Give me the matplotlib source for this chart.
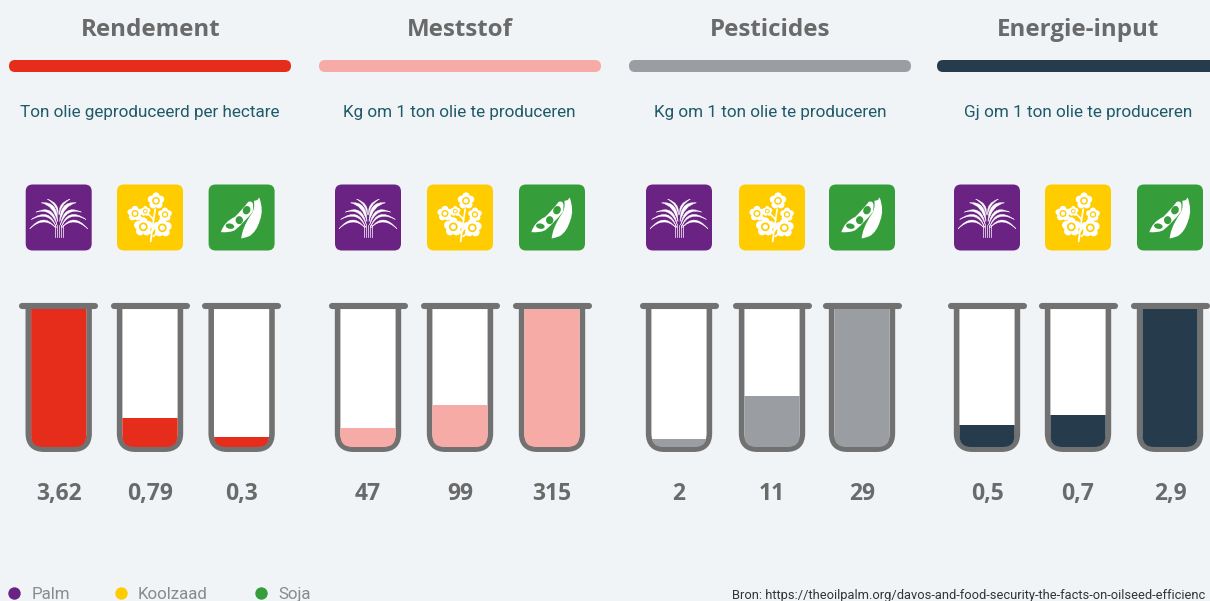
import numpy as np
import matplotlib
matplotlib.use("Agg")
import matplotlib.pyplot as plt
from matplotlib.path import Path
from matplotlib.patches import PathPatch, FancyBboxPatch, Circle, Ellipse
from matplotlib.transforms import Affine2D

titles = ["Rendement", "Meststof", "Pesticides", "Energie-input"]
subtitles = ["Ton olie geproduceerd per hectare", "Kg om 1 ton olie te produceren",
             "Kg om 1 ton olie te produceren", "Gj om 1 ton olie te produceren"]
crops = ["Palm", "Koolzaad", "Soja"]
crop_colors = ["#6B2383", "#FFCC00", "#359E3A"]
rendement = [3.62, 0.79, 0.3]
meststof = [47, 99, 315]
pesticides = [2, 11, 29]
energie = [0.5, 0.7, 2.9]
series = [rendement, meststof, pesticides, energie]
labels = [["3,62", "0,79", "0,3"], ["47", "99", "315"], ["2", "11", "29"], ["0,5", "0,7", "2,9"]]
panel_colors = ["#E62C1A", "#F6ABA6", "#9A9EA3", "#263B4B"]
source = "Bron: https://theoilpalm.org/davos-and-food-security-the-facts-on-oilseed-efficienc"

BG = "#F0F4F7"
WALL = "#717171"
GREY = "#6A6A6A"
TEAL = "#1F5A68"
W, H = 1210, 601
centers = [[58.7, 150, 241.6], [368, 460, 552], [679, 772, 862], [987, 1078, 1170]]
bar_spans = [(9, 291), (319, 601), (629, 911), (937, 1225)]
title_x = [151, 460, 770, 1078]
sub_x = [150, 459, 770, 1078]
TOP, BOT, ZERO = 309, 447, 449

fig = plt.figure(figsize=(W / 100, H / 100), dpi=100, facecolor=BG)
ax = fig.add_axes([0, 0, 1, 1], zorder=0)
ax.set_xlim(0, W)
ax.set_ylim(H, 0)
ax.axis("off")

M, L, C = Path.MOVETO, Path.LINETO, Path.CURVE3


def crescent(tip, base, c1, c2):
    return Path([tip, c1, base, c2, tip], [M, C, C, C, C])


def palm_icon(tr):
    fronds = [((88, 176), (165, 172), (130, 125), (130, 137)),
              ((93, 148), (168, 172), (148, 108), (146, 120)),
              ((107, 126), (170, 165), (160, 100), (152, 112)),
              ((123, 98), (172, 155), (172, 92), (160, 106)),
              ((141, 87), (173, 135), (178, 98), (170, 104))]
    for tip, base, c1, c2 in fronds:
        for m in (0, 1):
            pts = [tip, base, c1, c2]
            if m:
                pts = [(350 - x, y) for x, y in pts]
            ax.add_patch(PathPatch(crescent(*pts), fc="white", ec="white", lw=0.3, transform=tr))
    for dx in (-12, -6, 0, 6, 12):
        ax.plot([175 + dx, 175 + dx], [200, 165], color="white", lw=0.5, transform=tr)


def flower(tr, cx, cy, r, color):
    for k in range(5):
        a = np.pi / 2 + k * 2 * np.pi / 5
        ax.add_patch(Circle((cx + 0.62 * r * np.cos(a), cy - 0.62 * r * np.sin(a)), 0.48 * r, fc="white", ec="none", transform=tr))
    ax.add_patch(Circle((cx, cy), 0.55 * r, fc="white", ec="none", transform=tr))
    ax.add_patch(Circle((cx, cy), 0.5 * r, fc=color, ec="none", transform=tr))
    ax.add_patch(Circle((cx, cy), 0.3 * r, fc="white", ec="none", transform=tr))


def rapeseed_icon(tr, color):
    stems = [[(452, 216), (456, 175), (466, 115)], [(456, 185), (470, 160), (493, 140)],
             [(458, 200), (470, 190), (485, 178)], [(454, 190), (445, 180), (432, 170)],
             [(462, 150), (450, 135), (437, 125)], [(452, 165), (430, 145), (408, 132)]]
    for s in stems:
        ax.add_patch(PathPatch(Path(s, [M, C, C]), fc="none", ec="white", lw=1.2, transform=tr))
    for cx, cy, r in [(468, 92, 23), (405, 130, 21), (436, 123, 14), (495, 133, 19), (430, 170, 26), (487, 173, 26)]:
        flower(tr, cx, cy, r, color)


def soy_icon(tr, color):
    pod = Path([(663, 186), (672, 155), (705, 140), (730, 115), (745, 95), (765, 88), (758, 125), (735, 155), (705, 180), (690, 188), (663, 186)],
               [M, C, C, C, C, C, C, C, C, C, C])
    ax.add_patch(PathPatch(pod, fc="white", ec="none", transform=tr))
    for cx, cy, w, h, ang in [(690, 168, 26, 16, 10), (718, 150, 22, 24, 0), (740, 120, 22, 26, 30)]:
        ax.add_patch(Ellipse((cx, cy), w, h, angle=ang, fc=color, ec="none", transform=tr))
    shell = Path([(724, 205), (726, 175), (752, 135), (766, 118), (762, 92), (772, 90), (778, 82), (792, 120), (780, 150),
                  (770, 185), (748, 198), (735, 203), (724, 205)],
                 [M, C, C, C, C, L, L, C, C, C, C, C, C])
    ax.add_patch(PathPatch(shell, fc="white", ec="none", transform=tr))


def interior(cx):
    l, r, t, b, q = cx - 27.6, cx + 27.6, TOP, BOT, 12
    return Path([(l, t), (r, t), (r, b - q), (r, b), (r - q, b), (l + q, b), (l, b), (l, b - q), (l, t)],
                [M, L, L, C, C, L, C, C, L])


def wall(cx):
    l, r, t, b, q = cx - 30.4, cx + 30.4, 306, 449.2, 16
    return Path([(l, t), (l, b - q), (l, b), (l + q, b), (r - q, b), (r, b), (r, b - q), (r, t)],
                [M, L, C, C, L, C, C, L])


ICON_ZC = [(175, 142), (450, 142), (725, 142)]

for p in range(4):
    x0, x1 = bar_spans[p]
    ax.add_patch(FancyBboxPatch((x0, 60), x1 - x0, 12, boxstyle="round,pad=0,rounding_size=6", fc=panel_colors[p], ec="none"))
    ax.text(title_x[p], 35.5, titles[p], ha="center", va="baseline", fontsize=17.4, fontweight="bold", color=GREY, family="Open Sans")
    ax.text(sub_x[p], 117, subtitles[p], ha="center", va="baseline", fontsize=12.3, color=TEAL, family="Roboto")

    vax = fig.add_axes([0, (H - ZERO) / H, 1, (ZERO - TOP) / H], zorder=1)
    vax.set_xlim(0, W)
    vax.set_ylim(0, max(series[p]))
    vax.axis("off")
    vax.patch.set_alpha(0)

    for i, cx in enumerate(centers[p]):
        ax.add_patch(FancyBboxPatch((cx - 33 + 5, 184.5 + 5), 56, 56, boxstyle="round,pad=5,rounding_size=7", fc=crop_colors[i], ec="none"))
        zx, zy = ICON_ZC[i]
        tr = Affine2D().translate(-zx, -zy).scale(1 / 3).translate(cx, 217.5) + ax.transData
        if i == 0:
            palm_icon(tr)
        elif i == 1:
            rapeseed_icon(tr, crop_colors[i])
        else:
            soy_icon(tr, crop_colors[i])

        inner = PathPatch(interior(cx), fc="white", ec="none")
        ax.add_patch(inner)
        bars = vax.bar([cx], [series[p][i]], width=58, color=panel_colors[p], linewidth=0)
        bars[0].set_clip_path(inner)
        ax.plot([cx - 36.5, cx + 36.5], [306, 306], color=WALL, lw=4.4, solid_capstyle="round", zorder=5)
        ax.add_patch(PathPatch(wall(cx), fc="none", ec=WALL, lw=4.0, zorder=5))
        ax.text(cx, 500, labels[p][i], ha="center", va="baseline", fontsize=16.5, fontweight="bold", color=GREY, family="Open Sans")

for x, tx, name, c in zip([14, 121, 261], [32, 138, 278], crops, crop_colors):
    ax.scatter([x], [593], s=80, color=c, linewidth=0)
    ax.text(tx, 599, name, ha="left", va="baseline", fontsize=12.2, color="#8A8A8A", family="Roboto")

ax.text(732, 599, source, ha="left", va="baseline", fontsize=9.3, color="#333333", family="Roboto")

fig.savefig("out.png", dpi=100, facecolor=BG)
